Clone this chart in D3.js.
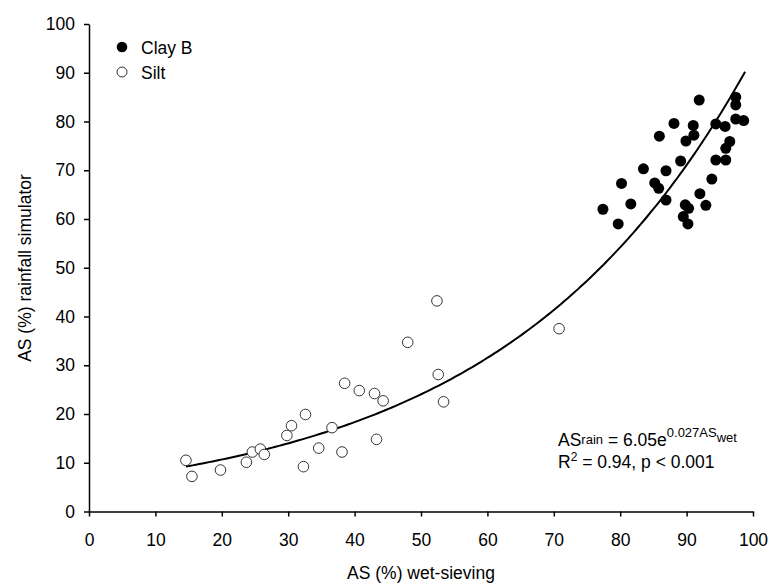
<!DOCTYPE html>
<meta charset="utf-8">
<style>
body { margin: 0; background: #fff; }
svg text { font-family: "Liberation Sans", Arial, sans-serif; fill: #000; }
.axis path, .axis line { stroke: #000; stroke-width: 1.5px; }
.axis text { font-size: 17.5px; }
</style>
<svg width="771" height="586"></svg>
<script src="https://cdn.jsdelivr.net/npm/d3@7"></script>
<script>

// Clay B (filled) - wet-sieving vs rainfall simulator
var clayX = [91.9, 97.4, 97.4, 88.1, 91.0, 94.4, 95.8, 97.4, 98.6, 85.9, 91.1, 89.9,
             96.5, 95.9, 89.1, 94.4, 95.9, 83.5, 86.9, 80.2, 85.2, 85.8, 93.8, 81.6,
             86.9, 92.0, 92.9, 77.4, 89.8, 90.3, 89.5, 79.7, 90.2];
var clayY = [84.4, 85.0, 83.4, 79.6, 79.2, 79.5, 79.0, 80.5, 80.2, 77.0, 77.2, 76.0,
             75.9, 74.5, 71.9, 72.1, 72.1, 70.3, 69.9, 67.3, 67.4, 66.3, 68.2, 63.1,
             63.9, 65.2, 62.8, 62.0, 62.9, 62.2, 60.5, 59.0, 59.0];

// Silt (open)
var siltX = [14.6, 15.5, 19.8, 23.7, 24.6, 25.8, 26.4, 29.8, 30.5, 32.6, 32.3, 34.6,
             36.6, 38.1, 38.5, 40.7, 43.0, 44.3, 43.3, 48.0, 52.4, 52.6, 53.4, 70.8];
var siltY = [10.5, 7.2, 8.5, 10.1, 12.2, 12.8, 11.7, 15.6, 17.6, 19.9, 9.2, 13.0,
             17.2, 12.2, 26.3, 24.8, 24.2, 22.7, 14.8, 34.7, 43.2, 28.1, 22.5, 37.5];

// exponential fit: label says 6.05e^(0.027x); the drawn curve sits a touch
// higher (unrounded coefficients), so these are read off the plotted line
var fitA = 6.2, fitB = 0.0271;
var fitRange = [14.6, 98.8];

var xTicks = [0, 10, 20, 30, 40, 50, 60, 70, 80, 90, 100];
var yTicks = [0, 10, 20, 30, 40, 50, 60, 70, 80, 90, 100];

var svg = d3.select("svg");

var x = d3.scaleLinear().domain([0, 100]).range([89, 753]);
var y = d3.scaleLinear().domain([0, 100]).range([511.5, 24]);

svg.append("g")
    .attr("class", "axis")
    .attr("transform", "translate(0," + y(0) + ")")
    .call(d3.axisBottom(x).tickValues(xTicks).tickSize(5).tickSizeOuter(0).tickPadding(17));

svg.append("g")
    .attr("class", "axis")
    .attr("transform", "translate(" + x(0) + ",0)")
    .call(d3.axisLeft(y).tickValues(yTicks).tickSize(5).tickSizeOuter(0).tickPadding(9));

svg.selectAll(".axis .domain").attr("stroke-width", 2);

// axis titles
svg.append("text")
    .attr("x", 421).attr("y", 579)
    .attr("text-anchor", "middle")
    .style("font-size", "17.5px")
    .text("AS (%) wet-sieving");

svg.append("text")
    .attr("transform", "translate(31,268) rotate(-90)")
    .attr("text-anchor", "middle")
    .style("font-size", "17.5px")
    .text("AS (%) rainfall simulator");

// fitted curve
var fitXs = d3.range(fitRange[0], fitRange[1], 0.5).concat([fitRange[1]]);
var line = d3.line()
    .x(function(d) { return x(d); })
    .y(function(d) { return y(fitA * Math.exp(fitB * d)); });

svg.append("path")
    .datum(fitXs)
    .attr("d", line)
    .attr("fill", "none")
    .attr("stroke", "#000")
    .attr("stroke-width", 2);

// points
svg.append("g").selectAll("circle")
    .data(siltX.map(function(v, i) { return [v, siltY[i]]; }))
    .enter().append("circle")
      .attr("cx", function(d) { return x(d[0]); })
      .attr("cy", function(d) { return y(d[1]); })
      .attr("r", 5.3)
      .attr("fill", "#fff")
      .attr("stroke", "#333")
      .attr("stroke-width", 1);

svg.append("g").selectAll("circle")
    .data(clayX.map(function(v, i) { return [v, clayY[i]]; }))
    .enter().append("circle")
      .attr("cx", function(d) { return x(d[0]); })
      .attr("cy", function(d) { return y(d[1]); })
      .attr("r", 5.5)
      .attr("fill", "#000");

// legend
var legend = svg.append("g").attr("transform", "translate(122,47)");
legend.append("circle").attr("r", 5.3).attr("fill", "#000");
legend.append("text").attr("x", 19).attr("y", 6.5).style("font-size", "17.5px").text("Clay B");
legend.append("circle").attr("cy", 25).attr("r", 5).attr("fill", "#fff").attr("stroke", "#333");
legend.append("text").attr("x", 19).attr("y", 31.5).style("font-size", "17.5px").text("Silt");

// equation
var eq = svg.append("text").attr("x", 558).attr("y", 446).style("font-size", "17.5px");
eq.append("tspan").text("AS");
eq.append("tspan").style("font-size", "13px").attr("dy", -2).text("rain");
eq.append("tspan").attr("dy", 2).text(" = 6.05e");
eq.append("tspan").style("font-size", "13px").attr("dy", -9).text("0.027AS");
eq.append("tspan").style("font-size", "13px").attr("dy", 5).text("wet");

var r2 = svg.append("text").attr("x", 558).attr("y", 468).style("font-size", "17.5px");
r2.append("tspan").text("R");
r2.append("tspan").style("font-size", "12px").attr("dy", -7).text("2");
r2.append("tspan").attr("dy", 7).text(" = 0.94, p < 0.001");

</script>
